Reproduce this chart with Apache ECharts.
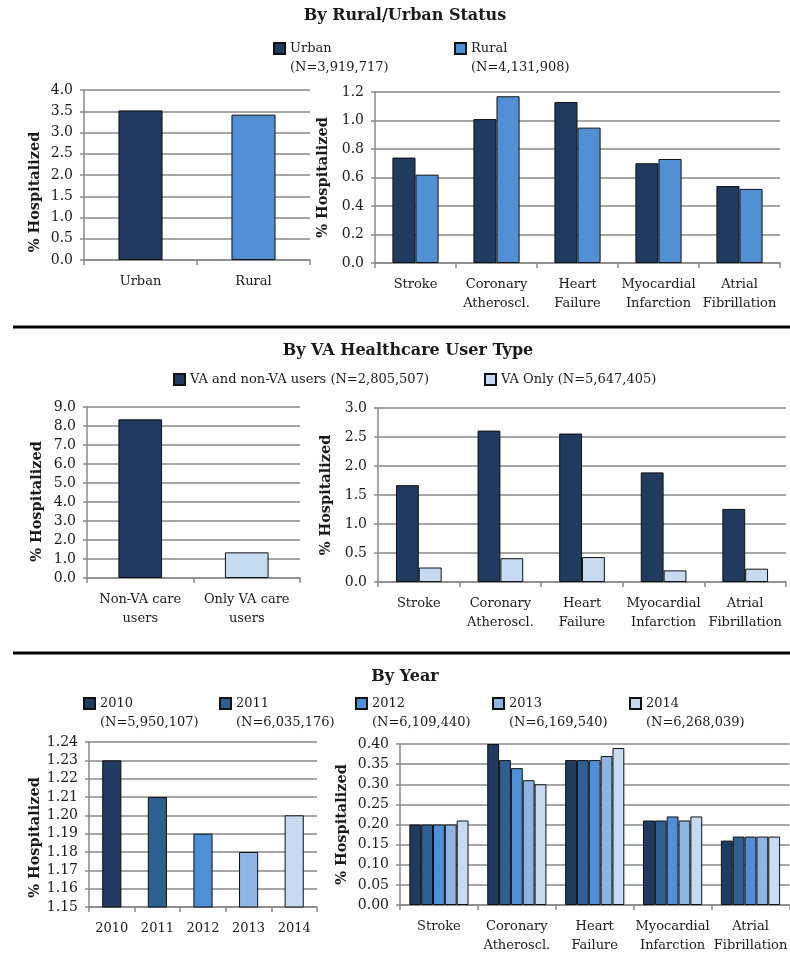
<!DOCTYPE html>
<html>
<head>
<meta charset="utf-8">
<script src="https://cdn.jsdelivr.net/npm/echarts@6/dist/echarts.min.js"></script>
<style>html,body{margin:0;padding:0;background:#fff}#c{width:790px;height:955px}</style>
</head>
<body>
<div id="c"></div>
<script>
// ---------- data ----------
const causeCats = ['Stroke', 'Coronary\nAtheroscl.', 'Heart\nFailure', 'Myocardial\nInfarction', 'Atrial\nFibrillation'];

const ruCats = ['Urban', 'Rural'];
const ruN = ['3,919,717', '4,131,908'];
const ruTotals = [3.52, 3.42];
const urbanByCause = [0.74, 1.01, 1.13, 0.70, 0.54];
const ruralByCause = [0.62, 1.17, 0.95, 0.73, 0.52];

const vaCats = ['Non-VA care\nusers', 'Only VA care\nusers'];
const vaNames = ['VA and non-VA users', 'VA Only'];
const vaN = ['2,805,507', '5,647,405'];
const vaTotals = [8.35, 1.35];
const vaNonVaByCause = [1.67, 2.61, 2.56, 1.89, 1.26];
const vaOnlyByCause = [0.25, 0.41, 0.43, 0.20, 0.23];

const years = ['2010', '2011', '2012', '2013', '2014'];
const yearN = ['5,950,107', '6,035,176', '6,109,440', '6,169,540', '6,268,039'];
const yearTotals = [1.23, 1.21, 1.19, 1.18, 1.20];
const y2010 = [0.20, 0.40, 0.36, 0.21, 0.16];
const y2011 = [0.20, 0.36, 0.36, 0.21, 0.17];
const y2012 = [0.20, 0.34, 0.36, 0.22, 0.17];
const y2013 = [0.20, 0.31, 0.37, 0.21, 0.17];
const y2014 = [0.21, 0.30, 0.39, 0.22, 0.17];
const yearByCause = [y2010, y2011, y2012, y2013, y2014];

// ---------- style ----------
const FONT = 'DejaVu Serif';
const NAVY = '#1f3b5f';
const RURAL = '#5290d6';
const VAONLY = '#c6dbf1';
const YEARC = ['#1f3b5f', '#2f5e91', '#4f8fd7', '#8db4e2', '#c6dbf1'];
const GRID = '#898989';
const TXT = '#1a1a1a';

const nMap = {};
ruCats.forEach((c, i) => nMap[c] = ruN[i]);
vaNames.forEach((c, i) => nMap[c] = vaN[i]);
years.forEach((c, i) => nMap[c] = yearN[i]);

function xAx(gi, data) {
  return {
    type: 'category', gridIndex: gi, data: data,
    axisLine: {lineStyle: {color: GRID, width: 1.5}},
    axisTick: {show: true, length: 5, lineStyle: {color: GRID, width: 1.5}},
    axisLabel: {color: TXT, fontSize: 13, fontFamily: FONT, margin: 12, lineHeight: 19, interval: 0}
  };
}
function yAx(gi, min, max, interval, dec, gap, shiftDown) {
  return {
    type: 'value', gridIndex: gi, min: min, max: max, interval: interval,
    name: '% Hospitalized', nameLocation: 'middle', nameRotate: 90, nameGap: gap,
    nameTextStyle: {fontSize: 14.5, fontWeight: 'bold', color: TXT, fontFamily: FONT,
      padding: [0, 2 * shiftDown, 0, 0]},
    axisLine: {show: true, lineStyle: {color: GRID, width: 1.5}},
    axisTick: {show: true, length: 4, lineStyle: {color: GRID, width: 1.5}},
    axisLabel: {color: TXT, fontSize: 14, fontFamily: FONT, margin: 11, formatter: v => v.toFixed(dec)},
    splitLine: {show: true, lineStyle: {color: GRID, width: 1.5}}
  };
}
const border = {borderColor: '#111', borderWidth: 1};

function legendItem(name, left, top, twoLine) {
  return {
    data: [name], left: left, top: top, padding: 0, orient: 'horizontal',
    itemWidth: 11, itemHeight: 11, icon: 'rect',
    formatter: twoLine ? (n => ' \n' + n + '\n(N=' + nMap[n] + ')') : (n => n + ' (N=' + nMap[n] + ')'),
    textStyle: {fontSize: 13, fontFamily: FONT, color: TXT, lineHeight: 19}
  };
}

const series = [];
// Top-left: totals by rural/urban
ruCats.forEach((c, i) => {
  series.push({
    name: c, type: 'bar', xAxisIndex: 0, yAxisIndex: 0, stack: 'ru', barWidth: '39%',
    itemStyle: Object.assign({color: i === 0 ? NAVY : RURAL}, border),
    data: ruTotals.map((v, j) => j === i ? v : '-')
  });
});
// Top-right
series.push({name: 'Urban', type: 'bar', xAxisIndex: 1, yAxisIndex: 1, barGap: '0%', barCategoryGap: '43%',
  itemStyle: Object.assign({color: NAVY}, border), data: urbanByCause});
series.push({name: 'Rural', type: 'bar', xAxisIndex: 1, yAxisIndex: 1, barGap: '0%', barCategoryGap: '43%',
  itemStyle: Object.assign({color: RURAL}, border), data: ruralByCause});
// Mid-left
vaNames.forEach((c, i) => {
  series.push({
    name: c, type: 'bar', xAxisIndex: 2, yAxisIndex: 2, stack: 'va', barWidth: '41%',
    itemStyle: Object.assign({color: i === 0 ? NAVY : VAONLY}, border),
    data: vaTotals.map((v, j) => j === i ? v : '-')
  });
});
// Mid-right
series.push({name: vaNames[0], type: 'bar', xAxisIndex: 3, yAxisIndex: 3, barGap: '0%', barCategoryGap: '44%',
  itemStyle: Object.assign({color: NAVY}, border), data: vaNonVaByCause});
series.push({name: vaNames[1], type: 'bar', xAxisIndex: 3, yAxisIndex: 3, barGap: '0%', barCategoryGap: '44%',
  itemStyle: Object.assign({color: VAONLY}, border), data: vaOnlyByCause});
// Bottom-left
years.forEach((c, i) => {
  series.push({
    name: c, type: 'bar', xAxisIndex: 4, yAxisIndex: 4, stack: 'yr', barWidth: '42%',
    itemStyle: Object.assign({color: YEARC[i]}, border),
    data: yearTotals.map((v, j) => j === i ? v : '-')
  });
});
// Bottom-right
years.forEach((c, i) => {
  series.push({
    name: c, type: 'bar', xAxisIndex: 5, yAxisIndex: 5, barGap: '0%', barCategoryGap: '24%',
    itemStyle: Object.assign({color: YEARC[i]}, border),
    data: yearByCause[i]
  });
});

const titleStyle = {fontSize: 16, fontWeight: 'bold', color: TXT, fontFamily: FONT};

const option = {
  animation: false,
  backgroundColor: '#fff',
  textStyle: {fontFamily: FONT, color: TXT},
  title: [
    {text: 'By Rural/Urban Status', left: 405, top: 8, textAlign: 'center', padding: 0, textStyle: titleStyle},
    {text: 'By VA Healthcare User Type', left: 408, top: 343, textAlign: 'center', padding: 0, textStyle: titleStyle},
    {text: 'By Year', left: 405, top: 669, textAlign: 'center', padding: 0, textStyle: titleStyle}
  ],
  graphic: [
    {type: 'line', shape: {x1: 13, y1: 327, x2: 790, y2: 327}, style: {stroke: '#000', lineWidth: 3}},
    {type: 'line', shape: {x1: 13, y1: 653, x2: 790, y2: 653}, style: {stroke: '#000', lineWidth: 3}}
  ],
  legend: [
    legendItem('Urban', 273, 20, true),
    legendItem('Rural', 454, 20, true),
    legendItem('VA and non-VA users', 173, 370, false),
    legendItem('VA Only', 484, 370, false),
    legendItem('2010', 83, 675, true),
    legendItem('2011', 219, 675, true),
    legendItem('2012', 355, 675, true),
    legendItem('2013', 492, 675, true),
    legendItem('2014', 629, 675, true)
  ],
  grid: [
    {left: 84, top: 90, width: 226, height: 170},
    {left: 375, top: 92, width: 405, height: 171},
    {left: 87, top: 407, width: 213, height: 171},
    {left: 378, top: 408, width: 408, height: 174},
    {left: 89, top: 742, width: 228, height: 165},
    {left: 400, top: 744, width: 392, height: 165}
  ],
  xAxis: [
    xAx(0, ruCats), xAx(1, causeCats), xAx(2, vaCats), xAx(3, causeCats), xAx(4, years), xAx(5, causeCats)
  ],
  yAxis: [
    yAx(0, 0, 4, 0.5, 1, 41, 17),
    yAx(1, 0, 1.2, 0.2, 1, 41, 0),
    yAx(2, 0, 9, 1, 1, 42, 9),
    yAx(3, 0, 3, 0.5, 1, 38, 0),
    yAx(4, 1.15, 1.24, 0.01, 2, 46, 13),
    yAx(5, 0, 0.4, 0.05, 2, 50, 0)
  ],
  series: series
};

const chart = echarts.init(document.getElementById('c'), null, {renderer: 'canvas'});
chart.setOption(option);
</script>
</body>
</html>
